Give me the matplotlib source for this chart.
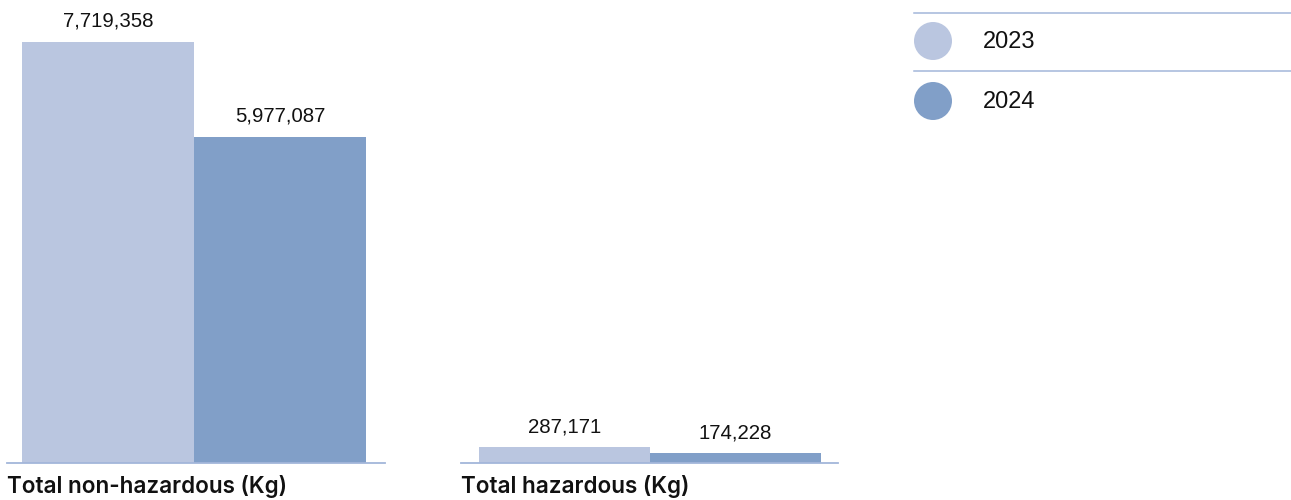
import matplotlib.pyplot as plt
from matplotlib.patches import Circle
from matplotlib.lines import Line2D

# ==================== Données ====================
annees = ["2023", "2024"]
categories = ["Total non-hazardous (Kg)", "Total hazardous (Kg)"]
non_dangereux = [7719358, 5977087]
dangereux = [287171, 174228]

couleurs = ["#BAC6E0", "#819FC8"]
couleur_ligne = "#A3B6DA"

W, H = 1291, 500
fig = plt.figure(figsize=(W / 100, H / 100), dpi=100)

# échelle commune aux deux panneaux : la plus grande barre monte à 42 px du haut
base_px = 463
ymax = max(non_dangereux) * base_px / (base_px - 42)

def panneau(x0, x1, bar_left, bar_w, valeurs, titre):
    ax = fig.add_axes([x0 / W, (H - base_px) / H, (x1 - x0) / W, base_px / H])
    xs = list(range(len(valeurs)))
    bars = ax.bar(xs, valeurs, width=1.0, align="edge", color=couleurs, linewidth=0)
    ax.set_xlim(-(bar_left - x0) / bar_w, (x1 - bar_left) / bar_w)
    ax.set_ylim(0, ymax)
    for b, v in zip(bars, valeurs):
        ax.annotate(f"{v:,}", (b.get_x() + b.get_width() / 2, v),
                    xytext=(0, 8), textcoords="offset points",
                    ha="center", va="bottom", fontsize=14.7,
                    family="Liberation Sans", color="#111111")
    for s in ["top", "right", "left"]:
        ax.spines[s].set_visible(False)
    ax.spines["bottom"].set_color(couleur_ligne)
    ax.spines["bottom"].set_linewidth(1.3)
    ax.set_xticks([])
    ax.set_yticks([])
    ax.patch.set_alpha(0)
    fig.text(x0 / W, (H - 487) / H, titre, ha="left", va="center",
             fontsize=16.2, fontweight="semibold", family="Inter", color="#111111")
    return ax

panneau(7, 385, 22, 172, non_dangereux, categories[0])
panneau(461, 838, 479, 171, dangereux, categories[1])

# ==================== Légende ====================
axl = fig.add_axes([900 / W, 0, (W - 900) / W, 1])
axl.set_xlim(900, W)
axl.set_ylim(H, 0)
axl.axis("off")
for i, (annee, c) in enumerate(zip(annees, couleurs)):
    y = 41 + 60 * i
    axl.add_line(Line2D([914, W], [13 + 58 * i] * 2, color=couleur_ligne, lw=1.1))
    axl.add_patch(Circle((933, y), 19, color=c, lw=0))
    axl.text(983, y + 1, annee, ha="left", va="center", fontsize=17,
             family="Liberation Sans", color="#111111")

fig.savefig("out.png", dpi=100)
